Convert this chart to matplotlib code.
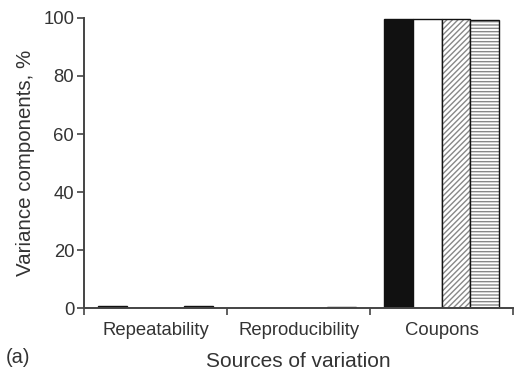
import matplotlib.pyplot as plt
import numpy as np

plt.rcParams['font.family'] = ['Liberation Sans', 'DejaVu Sans']

categories = ['Repeatability', 'Reproducibility', 'Coupons']
series_1 = [0.6, 0.1, 99.5]   # black
series_2 = [0.2, 0.1, 99.6]   # white
series_3 = [0.2, 0.1, 99.8]   # diagonal hatch
series_4 = [0.6, 0.4, 99.2]   # horizontal hatch

fig = plt.figure(figsize=(5.28, 3.74), dpi=100)
ax = fig.add_axes([0.159, 0.176, 0.813, 0.776])

x = np.arange(len(categories))
w = 0.2
ax.bar(x - 1.5 * w, series_1, w, color='#111111', edgecolor='#111111', linewidth=1)
ax.bar(x - 0.5 * w, series_2, w, color='white', edgecolor='#111111', linewidth=1)
ax.bar(x + 0.5 * w, series_3, w, color='white', edgecolor='#888888', hatch='//////', linewidth=0)
ax.bar(x + 0.5 * w, series_3, w, color='none', edgecolor='#111111', linewidth=1)
ax.bar(x + 1.5 * w, series_4, w, color='white', edgecolor='#888888', hatch='-----', linewidth=0)
ax.bar(x + 1.5 * w, series_4, w, color='none', edgecolor='#111111', linewidth=1)

ax.set_xlim(-0.5, 2.5)
ax.set_ylim(0, 100)
ax.set_yticks([0, 20, 40, 60, 80, 100])
ax.set_xticks([-0.5, 0.5, 1.5, 2.5])
ax.set_xticklabels([])
ax.set_xticks(x, minor=True)
ax.set_xticklabels(categories, minor=True, fontsize=13.3, color='#333333')
ax.tick_params(axis='x', which='minor', length=0, pad=10)
ax.tick_params(axis='x', which='major', length=5, width=1.2, color='#444444')
ax.tick_params(axis='y', length=5, width=1.2, color='#444444', labelsize=13.3,
               labelcolor='#333333', pad=2)

for s in ['top', 'right']:
    ax.spines[s].set_visible(False)
for s in ['left', 'bottom']:
    ax.spines[s].set_linewidth(1.4)
    ax.spines[s].set_color('#444444')

ax.set_ylabel('Variance components, %', fontsize=14.8, color='#333333', labelpad=6)
ax.set_xlabel('Sources of variation', fontsize=15, color='#333333', labelpad=9)
fig.text(0.01, 0.03, '(a)', fontsize=14.5, color='#333333')

fig.savefig('out.png', dpi=100)
